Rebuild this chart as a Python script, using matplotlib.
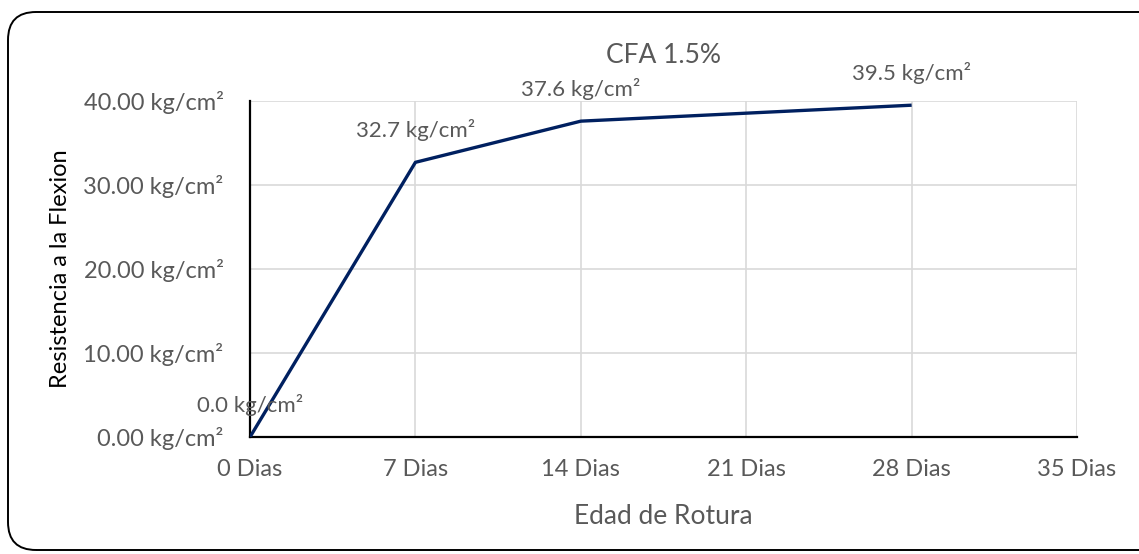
import matplotlib.pyplot as plt
from matplotlib.patches import FancyBboxPatch
from matplotlib.transforms import IdentityTransform

plt.rcParams["font.family"] = ["Lato", "DejaVu Sans"]

dias = [0, 7, 14, 28]
resistencia = [0.0, 32.7, 37.6, 39.5]
x_ticks = [0, 7, 14, 21, 28, 35]
x_labels = [f"{d} Dias" for d in x_ticks]
y_ticks = [0, 10, 20, 30, 40]
y_labels = [f"{v:.2f} kg/cm²" for v in y_ticks]

TXT = "#595959"
LINE = "#002060"

fig = plt.figure(figsize=(11.39, 5.54), dpi=100)

# rounded chart-area border, in pixels
border = FancyBboxPatch((8, 4), 1160, 538,
                        boxstyle="round,pad=0,rounding_size=28",
                        transform=IdentityTransform(), facecolor="none",
                        edgecolor="black", linewidth=1.4, zorder=-1)
fig.patches.append(border)

ax = fig.add_axes([0.2195, 0.2112, 0.7261, 0.6065])
ax.set_facecolor("none")
ax.plot(dias, resistencia, color=LINE, linewidth=2.4, solid_capstyle="butt", zorder=3)

for d, r in zip(dias, resistencia):
    ax.annotate(f"{r:.1f} kg/cm²", (d, r), xytext=(0, 23), textcoords="offset points",
                ha="center", va="center", fontsize=16, color=TXT)

ax.set_xlim(0, 35)
ax.set_ylim(0, 40)
ax.set_xticks(x_ticks)
ax.set_xticklabels(x_labels)
ax.set_yticks(y_ticks)
ax.set_yticklabels(y_labels)
ax.tick_params(length=0, labelsize=17, labelcolor=TXT, pad=16)
ax.tick_params(axis="y", pad=19)

ax.grid(True, color="#d9d9d9", linewidth=1.2)
ax.set_axisbelow(True)
for s in ["top", "right"]:
    ax.spines[s].set_visible(False)
for s in ["left", "bottom"]:
    ax.spines[s].set_color("black")
    ax.spines[s].set_linewidth(1.6)

ax.set_title("CFA 1.5%", fontsize=19, color=TXT, pad=27)
ax.set_xlabel("Edad de Rotura", fontsize=19, color=TXT, labelpad=17)
ax.set_ylabel("Resistencia a la Flexion", fontsize=17, color="black", labelpad=9)

fig.savefig("out.png", dpi=100)
